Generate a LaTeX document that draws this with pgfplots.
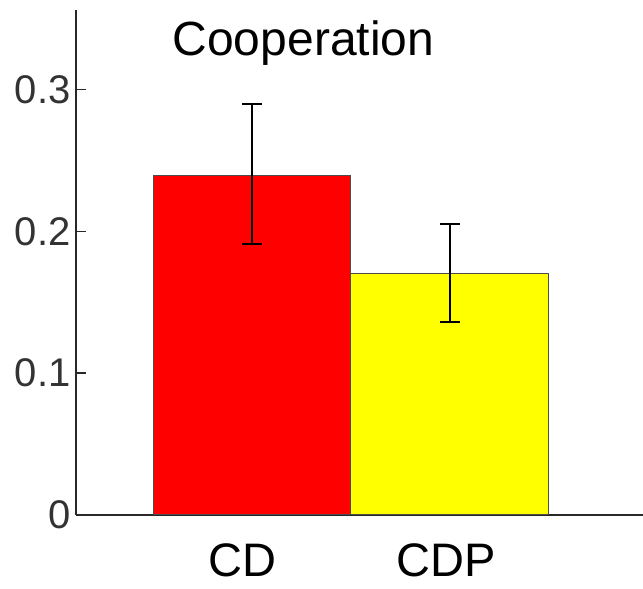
\documentclass[border=0pt]{standalone}
\usepackage{pgfplots}
\pgfplotsset{compat=1.18}
\usepackage{fontspec}
\setmainfont{Liberation Sans}
\definecolor{axgray}{RGB}{40,40,40}
\begin{document}
\begin{tikzpicture}[x=1pt,y=1pt]
\useasboundingbox (-76pt,-74pt) rectangle (567pt,515pt);
\begin{axis}[
  at={(0,0)}, anchor=origin,
  scale only axis, width=567pt, height=505pt,
  xmin=0.111, xmax=2.975, ymin=0, ymax=0.356,
  axis lines=left, axis line style={-, line width=2pt, axgray},
  xtick={0.95,1.98}, xticklabels={CD,CDP},
  ytick={0,0.1,0.2,0.3}, yticklabels={0,0.1,0.2,0.3},
  x tick style={draw=none},
  y tick style={line width=1.5pt, axgray},
  tick align=inside, major tick length=10pt,
  yticklabel style={font=\fontsize{40}{44}\selectfont, color=black!80, xshift=-2pt},
  xticklabel style={font=\fontsize{47}{52}\selectfont, color=black, inner sep=0pt, yshift=-18pt},
  ybar, bar width=1, bar shift=0pt,
  clip=false,
]
\addplot[fill={rgb,255:red,255;green,0;blue,0}, draw=black!70, line width=1pt,
  error bars/.cd, y dir=both, y explicit,
  error bar style={line width=2pt, black},
  error mark options={rotate=90, mark size=10pt, line width=2pt, black}]
  coordinates {(1,0.239) += (0,0.051) -= (0,0.048)};
\addplot[fill={rgb,255:red,255;green,255;blue,0}, draw=black!70, line width=1pt,
  error bars/.cd, y dir=both, y explicit,
  error bar style={line width=2pt, black},
  error mark options={rotate=90, mark size=10pt, line width=2pt, black}]
  coordinates {(2,0.170) += (0,0.035) -= (0,0.034)};
\node[font=\fontsize{48}{52}\selectfont] at (rel axis cs:0.401,0.935) {Cooperation};
\end{axis}
\end{tikzpicture}
\end{document}
